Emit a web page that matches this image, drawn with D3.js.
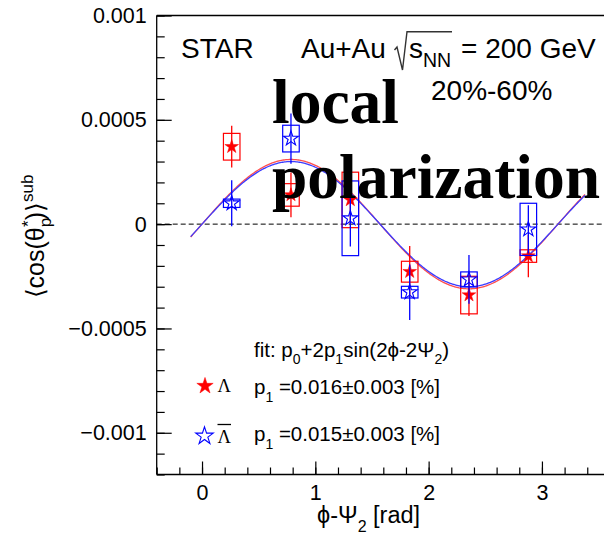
<!DOCTYPE html>
<html><head><meta charset="utf-8">
<script src="https://cdn.jsdelivr.net/npm/d3@7"></script>
<style>html,body{margin:0;padding:0;background:#fff;overflow:hidden} svg{display:block}</style>
</head><body>
<svg id="c" width="604" height="542"></svg>
<script>
// ---- data ----
const phiBins    = [0.262, 0.785, 1.309, 1.833, 2.356, 2.880];
const lambdaVals = [0.000371, 0.000140, 0.000116, -0.000228, -0.000340, -0.000153];
const lambdaStat = [0.000100, 0.000107, 0.000120, 0.000123, 0.000100, 0.000102];
const lambdaSys  = [0.000064, 0.000054, 0.000133, 0.000050, 0.000090, 0.000030];
const antiVals   = [0.000100, 0.000410, 0.000028, -0.000326, -0.000265, -0.000025];
const antiStat   = [0.000110, 0.000120, 0.000135, 0.000133, 0.000117, 0.000116];
const antiSys    = [0.000020, 0.000064, 0.000179, 0.000028, 0.000036, 0.000125];
const fitAmp     = [0.00031, 0.00030];   // 2*p1 : Lambda, anti-Lambda
const fitRange   = [-0.1, 3.38];
const xTicks     = [0, 1, 2, 3];
const xTickLabels= ["0", "1", "2", "3"];
const yTicks     = [-0.001, -0.0005, 0, 0.0005, 0.001];
const yTickLabels= ["\u22120.001", "\u22120.0005", "0", "0.0005", "0.001"];
const seriesNames= ["\u039B", "\u039B"];
const fitLabels  = ["=0.016\u00B10.003 [%]", "=0.015\u00B10.003 [%]"];

// ---- layout ----
const SANS = "'Liberation Sans', Arial, Helvetica, sans-serif";
const SERIF = "'Liberation Serif', 'Times New Roman', serif";
const L = 156.7, R = 603.3, T = 15.5, B = 474.5;
const RED = "#ff0000", BLUE = "#0000ff";

const svg = d3.select("#c");
svg.append("rect").attr("width", 604).attr("height", 542).attr("fill", "#fff");
const x = d3.scaleLinear().domain([-0.4, Math.PI + 0.4]).range([L, R]);
const y = d3.scaleLinear().domain([-0.0012, 0.001]).range([B, T]);

// zero dashed line
svg.append("line").attr("x1", L).attr("x2", 604).attr("y1", y(0)).attr("y2", y(0))
  .attr("stroke", "#000").attr("stroke-width", 1).attr("stroke-dasharray", "5,3");

// axes
function styleAxis(g, fs) {
  g.select(".domain").remove();
  g.selectAll(".tick line").attr("stroke", "#000").attr("stroke-width", 1.2);
  g.selectAll("text").attr("font-family", SANS).attr("font-size", fs).attr("fill", "#000");
}
const xMinor = d3.range(-2, 18).map(i => i / 5);
const yMinor = d3.range(-12, 11).map(i => i / 10000);

svg.append("g").attr("transform", `translate(0,${B})`)
  .call(d3.axisBottom(x).tickValues(xMinor).tickSizeInner(-7).tickSizeOuter(0).tickFormat(""))
  .call(g => styleAxis(g, 21));
svg.append("g").attr("transform", `translate(0,${B})`)
  .call(d3.axisBottom(x).tickValues(xTicks).tickSizeInner(-13).tickSizeOuter(0).tickPadding(10)
        .tickFormat((d, i) => xTickLabels[i]))
  .call(g => styleAxis(g, 21.5));
svg.append("g").attr("transform", `translate(${L},0)`)
  .call(d3.axisLeft(y).tickValues(yMinor).tickSizeInner(-8).tickSizeOuter(0).tickFormat(""))
  .call(g => styleAxis(g, 21));
svg.append("g").attr("transform", `translate(${L},0)`)
  .call(d3.axisLeft(y).tickValues(yTicks).tickSizeInner(-15).tickSizeOuter(0).tickPadding(10)
        .tickFormat((d, i) => yTickLabels[i]))
  .call(g => styleAxis(g, 21.5));

// frame: left, top, bottom (right edge lies outside the picture)
svg.append("line").attr("x1", L).attr("x2", L).attr("y1", T).attr("y2", B)
  .attr("stroke", "#000").attr("stroke-width", 1.3);
svg.append("line").attr("x1", L).attr("x2", 604).attr("y1", T).attr("y2", T)
  .attr("stroke", "#000").attr("stroke-width", 1.3);
svg.append("line").attr("x1", L).attr("x2", 604).attr("y1", B).attr("y2", B)
  .attr("stroke", "#000").attr("stroke-width", 1.3);

// fit curves
const fitX = d3.range(fitRange[0], fitRange[1] + 0.001, 0.01);
const line = d3.line().x(d => x(d[0])).y(d => y(d[1]));
[["#ff4d4d", 0], ["#3b3bff", 1]].forEach(([col, k]) => {
  svg.append("path").datum(fitX.map(p => [p, fitAmp[k] * Math.sin(2 * p)]))
    .attr("d", line).attr("fill", "none").attr("stroke", col).attr("stroke-width", 1.3);
});

// points
const halfW = 0.073;
function drawSeries(vals, stat, sys, col, filled, r) {
  const g = svg.append("g");
  phiBins.forEach((p, i) => {
    g.append("rect").attr("x", x(p - halfW)).attr("width", x(p + halfW) - x(p - halfW))
      .attr("y", y(vals[i] + sys[i])).attr("height", y(vals[i] - sys[i]) - y(vals[i] + sys[i]))
      .attr("fill", "none").attr("stroke", col).attr("stroke-width", 1.2);
    g.append("line").attr("x1", x(p)).attr("x2", x(p))
      .attr("y1", y(vals[i] + stat[i])).attr("y2", y(vals[i] - stat[i]))
      .attr("stroke", col).attr("stroke-width", 1.3);
    g.append("path").attr("transform", `translate(${x(p)},${y(vals[i])})`)
      .attr("d", d3.symbol(d3.symbolStar, r * r / 0.8908130915292852)())
      .attr("fill", filled ? col : "none").attr("stroke", col).attr("stroke-width", filled ? 0.5 : 1.1);
  });
}
drawSeries(lambdaVals, lambdaStat, lambdaSys, RED, true, 7.2);
drawSeries(antiVals, antiStat, antiSys, BLUE, false, 7.8);

// rich text helper
function rich(parent, x0, y0, parts, fs, extra) {
  const t = parent.append("text").attr("x", x0).attr("y", y0)
    .attr("font-family", SANS).attr("font-size", fs).attr("fill", "#000");
  if (extra) extra(t);
  let shift = 0;
  parts.forEach(pt => {
    const s = pt.s || 0;
    const ts = t.append("tspan").text(pt.t).attr("dy", s - shift);
    if (pt.fs) ts.attr("font-size", pt.fs);
    if (pt.dx) ts.attr("dx", pt.dx);
    shift = s;
  });
  return t;
}

// header texts
const HF = 28;
svg.append("text").attr("x", 181).attr("y", 58).attr("font-family", SANS).attr("font-size", HF).text("STAR");
svg.append("text").attr("x", 301).attr("y", 58).attr("font-family", SANS).attr("font-size", HF).text("Au+Au");
svg.append("path").attr("d", "M394.5,50 L397,47 L402.5,70 L407,31.7 L452,31.7")
  .attr("fill", "none").attr("stroke", "#333").attr("stroke-width", 1.4);
rich(svg, 409, 58, [{t: "s"}, {t: "NN", s: 9, fs: 19.5}], HF);
svg.append("text").attr("x", 461).attr("y", 58).attr("font-family", SANS).attr("font-size", HF).text("= 200 GeV");
svg.append("text").attr("x", 431).attr("y", 100).attr("font-family", SANS).attr("font-size", HF).text("20%-60%");

// legend
const LF = 20.5;
rich(svg, 254, 357, [
  {t: "fit: p"}, {t: "0", s: 7, fs: 14}, {t: "+2p"}, {t: "1", s: 7, fs: 14},
  {t: "sin(2\u03D5-2\u03A8"}, {t: "2", s: 7, fs: 14}, {t: ")"}], LF);

svg.append("path").attr("transform", "translate(205,386)")
  .attr("d", d3.symbol(d3.symbolStar, 8.6 * 8.6 / 0.8908130915292852)()).attr("fill", RED).attr("stroke", RED).attr("stroke-width", 0.5);
svg.append("path").attr("transform", "translate(204.5,436)")
  .attr("d", d3.symbol(d3.symbolStar, 9.2 * 9.2 / 0.8908130915292852)()).attr("fill", "none").attr("stroke", BLUE).attr("stroke-width", 1.1);
svg.append("text").attr("x", 217.5).attr("y", 392).attr("font-family", SERIF).attr("font-size", 18.5).text(seriesNames[0]);
svg.append("text").attr("x", 217.5).attr("y", 442.5).attr("font-family", SERIF).attr("font-size", 18.5).text(seriesNames[1]);
svg.append("line").attr("x1", 217.5).attr("x2", 231).attr("y1", 424.5).attr("y2", 424.5).attr("stroke", "#000").attr("stroke-width", 1.3);

rich(svg, 254, 394, [{t: "p"}, {t: "1", s: 8, fs: 14}, {t: " " + fitLabels[0]}], LF);
rich(svg, 254, 441, [{t: "p"}, {t: "1", s: 8, fs: 14}, {t: " " + fitLabels[1]}], LF);

// axis titles
rich(svg, 317, 523, [{t: "\u03D5-\u03A8"}, {t: "2", s: 9, fs: 16}, {t: " [rad]", s: 0}], 23.5);
rich(svg, 0, 0, [
  {t: "\u27E8cos(\u03B8"}, {t: "p", s: 7, fs: 17}, {t: "*", s: -10, fs: 17, dx: -9},
  {t: ")\u27E9", s: 0}, {t: "sub", s: -11, fs: 17}], 25,
  t => t.attr("transform", "translate(44,236.5) rotate(-90)").attr("text-anchor", "middle"));

// overlay text
svg.append("text").attr("x", 272).attr("y", 123).attr("font-family", SERIF).attr("font-weight", "bold")
  .attr("font-size", 63.5).text("local");
svg.append("text").attr("x", 272).attr("y", 198).attr("font-family", SERIF).attr("font-weight", "bold")
  .attr("font-size", 63.5).text("polarization");
</script>
</body></html>
